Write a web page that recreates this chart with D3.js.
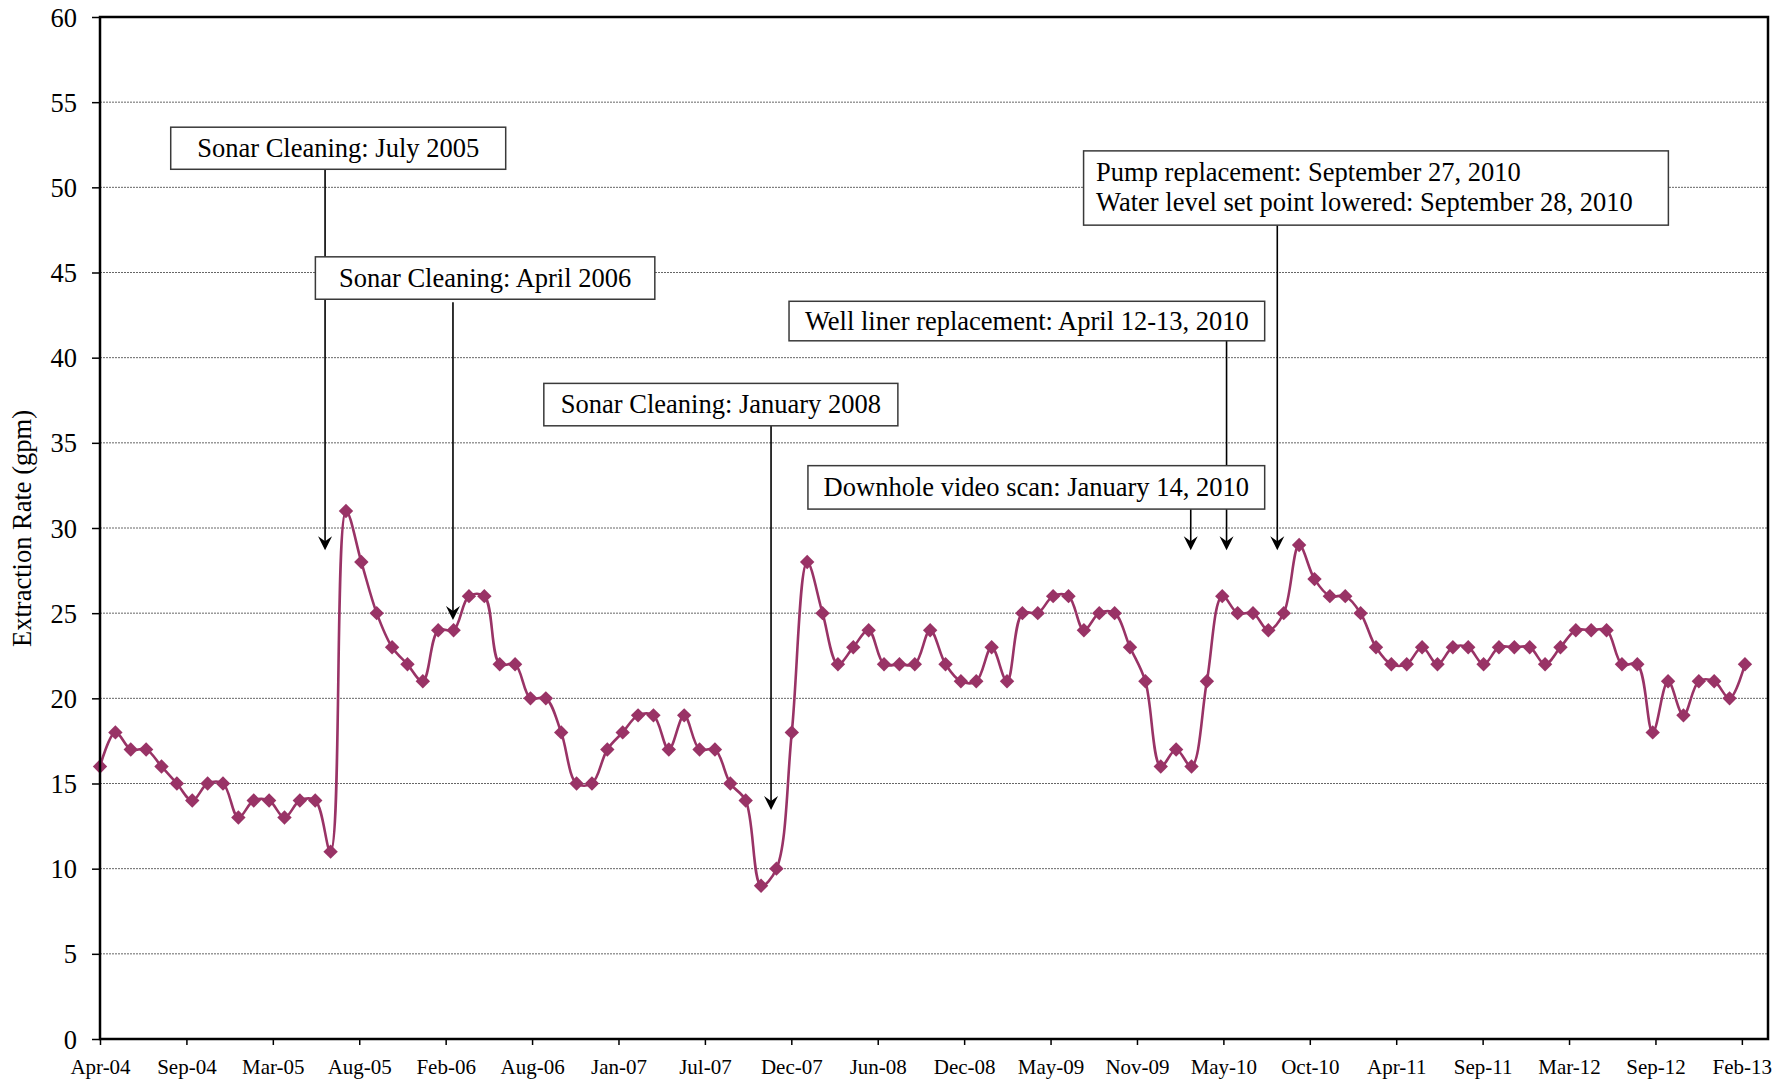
<!DOCTYPE html>
<html><head><meta charset="utf-8">
<script src="https://cdn.jsdelivr.net/npm/d3@7"></script>
<style>html,body{margin:0;padding:0;background:#fff;} svg{display:block;}</style>
</head><body><svg id="chart" width="1786" height="1079"></svg>
<script>
// ---- data ----
const extractionRate = [
  16,18,17,17,16,15,14,15,15,13,14,14,13,14,14,11,31,28,25,23,22,21,24,24,26,26,22,22,20,20,
  18,15,15,17,18,19,19,17,19,17,17,15,14,9,10,18,28,25,22,23,24,22,22,22,24,22,21,21,
  23,21,25,25,26,26,24,25,25,23,21,16,17,16,21,26,25,25,24,25,29,27,26,26,25,23,22,22,23,22,
  23,23,22,23,23,23,22,23,24,24,24,22,22,18,21,19,21,21,20,22
];
const xTickLabels = ["Apr-04","Sep-04","Mar-05","Aug-05","Feb-06","Aug-06","Jan-07","Jul-07","Dec-07","Jun-08",
  "Dec-08","May-09","Nov-09","May-10","Oct-10","Apr-11","Sep-11","Mar-12","Sep-12","Feb-13"];
const yTickValues = [0,5,10,15,20,25,30,35,40,45,50,55,60];
const yTitle = "Extraction Rate (gpm)";
const annotationTexts = [
  ["Sonar Cleaning: July 2005"],
  ["Sonar Cleaning: April 2006"],
  ["Sonar Cleaning: January 2008"],
  ["Well liner replacement: April 12-13, 2010"],
  ["Downhole video scan: January 14, 2010"],
  ["Pump replacement: September 27, 2010", "Water level set point lowered: September 28, 2010"]
];

// ---- layout (data units for annotation placement) ----
const boxLayout = [
  {x0:4.60,  x1:26.39,  yTop:53.53, yBot:51.06, align:"middle"},
  {x0:14.01, x1:36.09,  yTop:45.92, yBot:43.43, align:"middle"},
  {x0:28.87, x1:51.90,  yTop:38.49, yBot:36.00, align:"middle"},
  {x0:44.82, x1:75.76,  yTop:43.31, yBot:40.99, align:"middle"},
  {x0:46.05, x1:75.76,  yTop:33.66, yBot:31.11, align:"middle"},
  {x0:63.98, x1:102.02, yTop:52.14, yBot:47.78, align:"start"}
];
const arrowLayout = [
  {x:14.64, from:51.06, to:28.7},
  {x:22.96, from:43.25, to:24.6},
  {x:43.65, from:36.00, to:13.45},
  {x:73.28, from:40.99, to:28.7},
  {x:70.95, from:31.11, to:28.7},
  {x:76.58, from:47.78, to:28.7}
];

const W = 1786, H = 1079;
const L = 100, R = 1768, T = 17, B = 1039;
const font = "'Liberation Serif','Times New Roman',serif";
const lineColor = "#993366";
const lastTickPos = 106.8;

const svg = d3.select("#chart");
svg.append("rect").attr("width", W).attr("height", H).attr("fill", "#fff");

const x = d3.scaleLinear().domain([0, 108.5]).range([L, R]);
const y = d3.scaleLinear().domain([0, 60]).range([B, T]);

// gridlines
svg.append("g").selectAll("line")
  .data(yTickValues.filter(v => v > 0 && v < 60))
  .join("line")
  .attr("x1", L).attr("x2", R)
  .attr("y1", d => y(d)).attr("y2", d => y(d))
  .attr("stroke", "#666").attr("stroke-width", 1).attr("stroke-dasharray", "2,1");

// y axis
const yAxis = svg.append("g").attr("transform", `translate(${L},0)`)
  .call(d3.axisLeft(y).tickValues(yTickValues).tickSize(8).tickPadding(15).tickFormat(d3.format("d")));
yAxis.select(".domain").remove();
yAxis.selectAll(".tick line").attr("stroke", "#000").attr("stroke-width", 1.5);
yAxis.selectAll(".tick text").attr("font-family", font).attr("font-size", 26.5).attr("fill", "#000").attr("dy", "0.34em");

// x axis
const tickPos = xTickLabels.map((d, i) => i * lastTickPos / (xTickLabels.length - 1));
const xAxis = svg.append("g").attr("transform", `translate(0,${B})`)
  .call(d3.axisBottom(x).tickValues(tickPos).tickSize(6).tickPadding(14)
    .tickFormat((d, i) => xTickLabels[i]));
xAxis.select(".domain").remove();
xAxis.selectAll(".tick line").attr("stroke", "#000").attr("stroke-width", 1.5);
xAxis.selectAll(".tick text").attr("font-family", font).attr("font-size", 21).attr("fill", "#000");

// y title
svg.append("text")
  .attr("transform", `translate(31,${(T + B) / 2 + 0.5}) rotate(-90)`)
  .attr("text-anchor", "middle")
  .attr("font-family", font).attr("font-size", 26.5).attr("fill", "#000")
  .text(yTitle);

// data line
const line = d3.line().x((d, i) => x(i)).y(d => y(d)).curve(d3.curveCatmullRom.alpha(0.5));
svg.append("path").datum(extractionRate)
  .attr("d", line).attr("fill", "none")
  .attr("stroke", lineColor).attr("stroke-width", 2.6).attr("stroke-linejoin", "round");

const r = 7.2;
svg.append("g").selectAll("path")
  .data(extractionRate)
  .join("path")
  .attr("transform", (d, i) => `translate(${x(i)},${y(d)})`)
  .attr("d", `M0,${-r}L${r},0L0,${r}L${-r},0Z`)
  .attr("fill", lineColor);

// leader lines and arrowheads
const ag = svg.append("g");
arrowLayout.forEach(a => {
  const px = x(a.x), y0 = y(a.from), tip = y(a.to);
  ag.append("line").attr("x1", px).attr("x2", px).attr("y1", y0).attr("y2", tip - 8)
    .attr("stroke", "#000").attr("stroke-width", 1.6);
  ag.append("path")
    .attr("d", `M${px},${tip}L${px - 7},${tip - 14}L${px},${tip - 9}L${px + 7},${tip - 14}Z`)
    .attr("fill", "#000");
});

// annotation boxes
const bg = svg.append("g");
boxLayout.forEach((b, k) => {
  const bx0 = x(b.x0), bx1 = x(b.x1), by0 = y(b.yTop), by1 = y(b.yBot);
  bg.append("rect").attr("x", bx0).attr("y", by0).attr("width", bx1 - bx0).attr("height", by1 - by0)
    .attr("fill", "#fff").attr("stroke", "#3a3a3a").attr("stroke-width", 1.5);
  const lines = annotationTexts[k];
  const cy = (by0 + by1) / 2;
  const lh = 30;
  lines.forEach((t, j) => {
    const baseline = cy + 8.5 + (j - (lines.length - 1) / 2) * lh - (lines.length > 1 ? 1 : 0);
    bg.append("text")
      .attr("x", b.align === "middle" ? (bx0 + bx1) / 2 : bx0 + 12.5)
      .attr("y", baseline)
      .attr("text-anchor", b.align)
      .attr("font-family", font).attr("font-size", 26.5).attr("fill", "#000")
      .text(t);
  });
});

// plot frame
svg.append("rect").attr("x", L).attr("y", T).attr("width", R - L).attr("height", B - T)
  .attr("fill", "none").attr("stroke", "#000").attr("stroke-width", 2.5);
</script>
</body></html>
